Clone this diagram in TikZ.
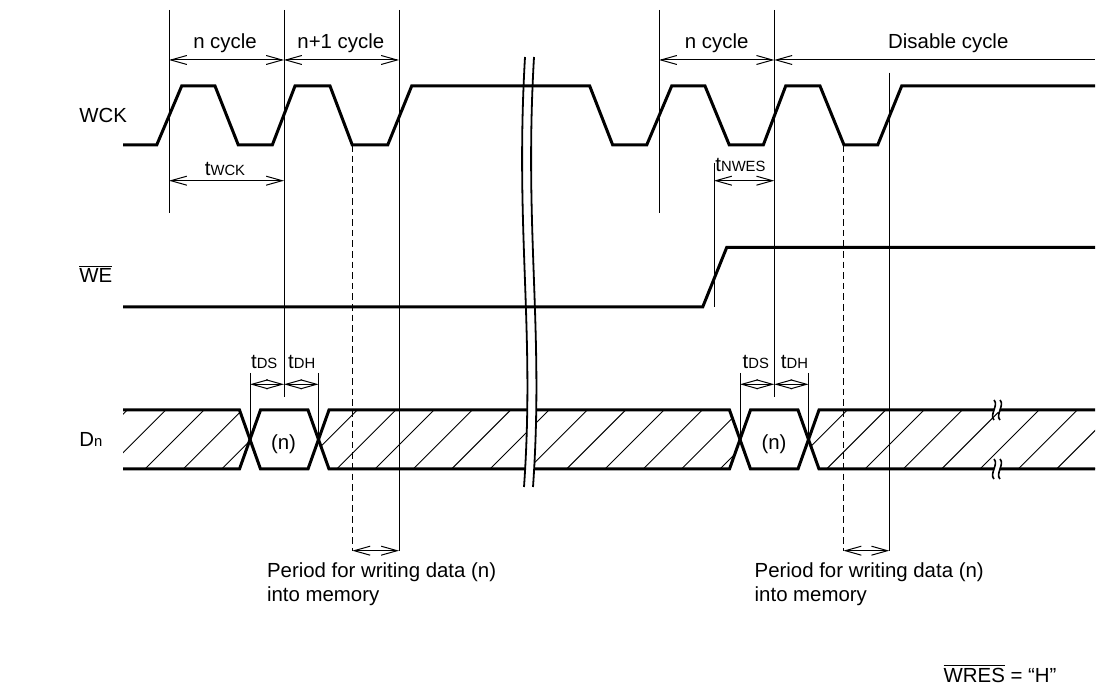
\documentclass[tikz,border=0pt]{standalone}
\usepackage{fontspec}
\setmainfont{Liberation Sans}
\usetikzlibrary{arrows.meta}
\newcommand{\sm}[1]{{\fontsize{7.4pt}{8pt}\selectfont #1}}

\begin{document}
\begin{tikzpicture}[x=0.5pt,y=-0.5pt,
		font=\fontsize{10.2pt}{12.2pt}\selectfont,
		sig/.style={line width=1.5pt, line join=miter},
		ref/.style={line width=0.5pt},
		dim/.style={line width=0.5pt, {Straight Barb[length=8pt,width=4.5pt]}-{Straight Barb[length=8pt,width=4.5pt]}},
		hatch/.style={line width=0.45pt},
		lbl/.style={inner sep=0pt}]
		\useasboundingbox (0,0) rectangle (1098,688);

		\node[lbl, anchor=base west] (wck) at (79,122.5) {WCK};
		\node[lbl, anchor=base west] (we) at (79,283) {$\overline{\mbox{WE}}$};
		\node[lbl, anchor=base west] (dn) at (79,447) {D\sm{n}};

		\draw[sig] (123,145) -- (156.7,145) -- (181.7,86) -- (215,86) -- (238.3,145) -- (272.3,145) -- (295,86) -- (330,86) -- (352.3,145) -- (387.7,145) -- (411.7,86) -- (589.7,86) -- (612.7,145) -- (646.7,145) -- (671.7,86) -- (705,86) -- (729.3,145) -- (763.3,145) -- (785.7,86) -- (820,86) -- (844,145) -- (877.7,145) -- (901.7,86) -- (1095,86);
		\draw[sig] (123,307) -- (702.7,307) -- (726.7,247.5) -- (1095,247.5);

		\begin{scope}
			\clip (123,410) -- (239.5,410) -- (250,439.5) -- (239.5,469) -- (123,469) -- cycle;
			\foreach \k in {1,...,6} \draw[hatch] ({30+38.33*\k},469) -- ++(59,-59);
		\end{scope}
		\begin{scope}
			\clip (318.5,439.5) -- (329,410) -- (729.5,410) -- (740,439.5) -- (729.5,469) -- (329,469) -- cycle;
			\foreach \k in {7,...,19} \draw[hatch] ({30+38.33*\k},469) -- ++(59,-59);
		\end{scope}
		\begin{scope}
			\clip (808.5,439.5) -- (819,410) -- (1095,410) -- (1095,469) -- (819,469) -- cycle;
			\foreach \k in {19,...,28} \draw[hatch] ({21.7+38.33*\k},469) -- ++(59,-59);
		\end{scope}

		\draw[sig] (123,410) -- (239.5,410) -- (260.5,469) -- (308,469) -- (329,410) -- (729.5,410) -- (750.5,469) -- (798,469) -- (819,410) -- (1095,410);
		\draw[sig] (123,469) -- (239.5,469) -- (260.5,410) -- (308,410) -- (329,469) -- (729.5,469) -- (750.5,410) -- (798,410) -- (819,469) -- (1095,469);
		\node[lbl, anchor=base] (d1) at (283.5,450) {(n)};
		\node[lbl, anchor=base] (d2) at (774,450) {(n)};

		\begin{scope}
			\clip (500,400) rectangle (560,480);
			\fill[white] (525,57) .. controls (515,230) and (535,330) .. (524,487) -- (533,487) .. controls (544,330) and (524,230) .. (534,57) -- cycle;
		\end{scope}
		\draw[line width=0.9pt] (525,57) .. controls (515,230) and (535,330) .. (524,487);
		\draw[line width=0.9pt] (534,57) .. controls (524,230) and (544,330) .. (533,487);

		\foreach \y in {410,469} {
			\fill[white] (994,\y-2.5) rectangle (1000,\y+2.5);
			\foreach \x in {994,1000}
				\draw[line width=0.8pt] (\x,\y-10) .. controls (\x+5,\y-5) and (\x-5,\y+5) .. (\x,\y+10);
		}

		\draw[ref] (169,10) -- (169,213);
		\draw[ref] (284,10) -- (284,397);
		\draw[ref] (399,10) -- (399,551);
		\draw[ref] (659,10) -- (659,213);
		\draw[ref] (774.3,10) -- (774.3,397);
		\draw[ref] (889.3,72.7) -- (889.3,551);
		\draw[ref] (714,163) -- (714,307);
		\draw[ref] (250,373) -- (250,439.5);
		\draw[ref] (318.5,373) -- (318.5,439.5);
		\draw[ref] (740,373) -- (740,439.5);
		\draw[ref] (808.5,373) -- (808.5,439.5);
		\draw[ref, dash pattern=on 3.3pt off 2pt] (352.3,145) -- (352.3,551);
		\draw[ref, dash pattern=on 3.3pt off 2pt] (843.5,145) -- (843.5,551);

		\draw[dim] (169,60) -- (284,60);
		\draw[dim] (284,60) -- (399,60);
		\draw[dim] (659,60) -- (774.3,60);
		\draw[ref, {Straight Barb[length=8pt,width=4.5pt]}-] (774.3,60) -- (1095,60);
		\draw[dim] (169,180.7) -- (284,180.7);
		\draw[dim] (714,180.7) -- (774.3,180.7);
		\draw[dim] (250,384.3) -- (284,384.3);
		\draw[dim] (284,384.3) -- (318.5,384.3);
		\draw[dim] (740,384.3) -- (774.3,384.3);
		\draw[dim] (774.3,384.3) -- (808.5,384.3);
		\draw[dim] (352.3,550.7) -- (399,550.7);
		\draw[dim] (843.5,550.7) -- (889.3,550.7);

		\node[lbl, anchor=base] (cyc1) at (225,48.3) {n cycle};
		\node[lbl, anchor=base] (cyc2) at (340.8,48.3) {n+1 cycle};
		\node[lbl, anchor=base] (cyc3) at (716.7,48.3) {n cycle};
		\node[lbl, anchor=base] (cyc4) at (948.3,48.3) {Disable cycle};
		\node[lbl, anchor=base] (twck) at (225,175.7) {t\sm{WCK}};
		\node[lbl, anchor=base west] (tnwes) at (715,171.7) {t\sm{NWES}};
		\node[lbl, anchor=base] (tds1) at (264.2,368.3) {t\sm{DS}};
		\node[lbl, anchor=base] (tdh1) at (301.7,368.3) {t\sm{DH}};
		\node[lbl, anchor=base] (tds2) at (755.8,368.3) {t\sm{DS}};
		\node[lbl, anchor=base] (tdh2) at (794.5,368.3) {t\sm{DH}};

		\node[lbl, anchor=base west] (per1) at (266.7,577.3) {Period for writing data (n)};
		\node[lbl, anchor=base west] (mem1) at (266.7,601.7) {into memory};
		\node[lbl, anchor=base west] (per2) at (754.3,577.3) {Period for writing data (n)};
		\node[lbl, anchor=base west] (mem2) at (754.3,601.7) {into memory};
		\node[lbl, anchor=base west] (wres) at (943.3,682.7) {$\overline{\mbox{WRES}}$ = “H”};
	\end{tikzpicture}
\end{document}
